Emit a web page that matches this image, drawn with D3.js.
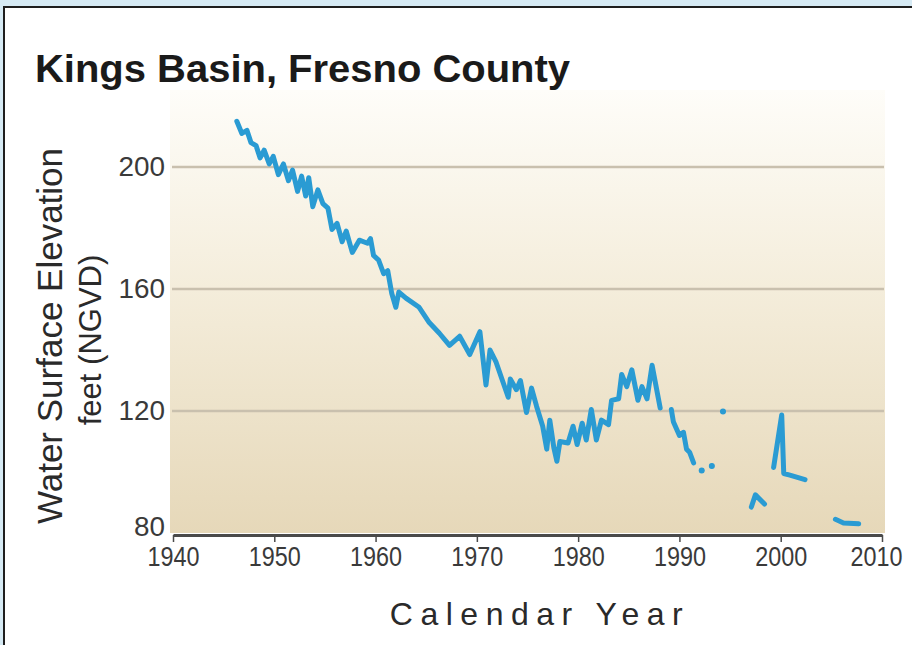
<!DOCTYPE html>
<html>
<head>
<meta charset="utf-8">
<script src="https://cdn.jsdelivr.net/npm/d3@7"></script>
<style>
  html, body { margin: 0; padding: 0; background: #d6eaf4; }
  svg { display: block; }
</style>
</head>
<body>
<div id="chart"></div>
<script>
var svgWidth = 912;
var svgHeight = 645;

// chart values (null = gap in the record)
var years = [
  1946.3, 1946.8, 1947.3, 1947.7, 1948.2, 1948.6, 1949.0, 1949.5, 1949.9, 1950.4,
  1950.9, 1951.4, 1951.8, 1952.3, 1952.7, 1953.1, 1953.4, 1953.8, 1954.3, 1954.8,
  1955.3, 1955.7, 1956.2, 1956.7, 1957.1, 1957.7, 1958.4, 1959.2, 1959.5, 1959.8,
  1960.3, 1960.8, 1961.2, 1961.6, 1962.0, 1962.3, 1963.0, 1964.3, 1965.3, 1966.3,
  1967.3, 1968.3, 1969.3, 1970.3, 1970.9, 1971.3, 1971.9, 1973.1, 1973.3, 1973.9,
  1974.3, 1974.9, 1975.4, 1975.9, 1976.5, 1976.9, 1977.2, 1977.6, 1977.9, 1978.2,
  1979.0, 1979.5, 1979.9, 1980.4, 1980.8, 1981.3, 1981.8, 1982.3, 1983.0, 1983.3,
  1984.0, 1984.3, 1984.8, 1985.3, 1985.9, 1986.3, 1986.8, 1987.3, 1988.1, 1988.6,
  1989.2, 1989.4, 1990.0, 1990.4, 1990.7, 1991.0, 1991.4, 1991.8,
  1992.2, 1992.7, 1993.2, 1993.7, 1994.3, 1995.0,
  1997.1, 1997.5, 1998.4, 1998.9,
  1999.3, 2000.1, 2000.3, 2000.9, 2002.4, 2003.5,
  2005.4, 2006.2, 2007.7
];
var elevation = [
  215, 211, 212, 208, 207, 203, 205.5, 201, 203.5, 197.5,
  201, 195.5, 199, 192, 197, 190.5, 196.5, 187, 192.5, 188,
  186.5, 179.5, 181.5, 175.5, 179, 172, 176, 175, 176.5, 171,
  169.5, 165, 166, 158.5, 154, 159, 157, 154, 149, 145.5,
  141.5, 144.5, 138.5, 146, 128.5, 140, 136, 124.5, 130.5, 127,
  130, 119.5, 127.5, 121.5, 115, 107.5, 117, 108, 103.5, 110,
  109.5, 115, 109, 116, 110.5, 120.5, 110.5, 117, 115.5, 123.5,
  124, 132, 128, 133.5, 123.5, 128, 124, 135, 121, null,
  120.5, 116.5, 112, 113, 107.5, 106.5, 103, null,
  100.5, null, 102, null, 119.8, null,
  88.5, 92.5, 89.5, null,
  101.5, 118.7, 99.5, 99, 97.5, null,
  84.5, 83.3, 83
];
var yTicks = [80, 120, 160, 200];
var xTicks = [1940, 1950, 1960, 1970, 1980, 1990, 2000, 2010];

var svg = d3.select("#chart")
  .append("svg")
  .attr("width", svgWidth)
  .attr("height", svgHeight);

// page frame
svg.append("rect").attr("x", 0).attr("y", 0).attr("width", svgWidth).attr("height", svgHeight).attr("fill", "#d6eaf4");
svg.append("rect").attr("x", 5).attr("y", 8).attr("width", svgWidth - 5).attr("height", svgHeight - 8).attr("fill", "#ffffff");
svg.append("line").attr("x1", 4).attr("x2", svgWidth).attr("y1", 7).attr("y2", 7).attr("stroke", "#1e1e1e").attr("stroke-width", 2);
svg.append("line").attr("x1", 4).attr("x2", 4).attr("y1", 6).attr("y2", svgHeight).attr("stroke", "#1e1e1e").attr("stroke-width", 2);

var xScale = d3.scaleLinear().domain([1940, 2010]).range([173, 882]);
var yScale = d3.scaleLinear().domain([80, 200]).range([533, 167]);

// plot background gradient
var defs = svg.append("defs");
var grad = defs.append("linearGradient").attr("id", "bg").attr("x1", 0).attr("x2", 0).attr("y1", 0).attr("y2", 1);
grad.append("stop").attr("offset", "0%").attr("stop-color", "#fefdf9");
grad.append("stop").attr("offset", "45%").attr("stop-color", "#f4eddb");
grad.append("stop").attr("offset", "100%").attr("stop-color", "#e6d8b9");

svg.append("rect")
  .attr("x", xScale(1940) - 3)
  .attr("y", 90)
  .attr("width", xScale(2010) + 3 - (xScale(1940) - 3))
  .attr("height", yScale(80) - 90)
  .attr("fill", "url(#bg)");

// grid lines
svg.selectAll(".grid")
  .data(yTicks.filter(d => d > 80))
  .enter()
  .append("line")
  .attr("x1", xScale(1940) - 1)
  .attr("x2", xScale(2010) + 2)
  .attr("y1", d => yScale(d))
  .attr("y2", d => yScale(d))
  .attr("stroke", "#c9c0ae")
  .attr("stroke-width", 2.5);

// y tick labels
svg.selectAll(".ylab")
  .data(yTicks)
  .enter()
  .append("text")
  .attr("x", xScale(1940) - 8)
  .attr("y", d => yScale(d) + (d === 80 ? 3 : 9))
  .attr("text-anchor", "end")
  .attr("font-family", "Liberation Sans, Arial, sans-serif")
  .attr("font-size", 27)
  .attr("fill", "#3a3a3a")
  .attr("textLength", d => String(d).length * 15.5)
  .attr("lengthAdjust", "spacingAndGlyphs")
  .text(d => d);

// x axis
var bottomAxis = d3.axisBottom(xScale).tickValues(xTicks).tickSize(7).tickSizeOuter(0).tickFormat(d3.format("d"));
var xAxisG = svg.append("g")
  .attr("transform", `translate(0, ${yScale(80) + 2})`)
  .call(bottomAxis);
xAxisG.select(".domain").attr("stroke", "#4a4a4a").attr("stroke-width", 3);
xAxisG.selectAll(".tick line").attr("stroke", "#4a4a4a").attr("stroke-width", 1.5);
xAxisG.selectAll(".tick text")
  .attr("y", 31)
  .attr("dy", 0)
  .attr("font-family", "Liberation Sans, Arial, sans-serif")
  .attr("font-size", 28)
  .attr("fill", "#3a3a3a")
  .attr("textLength", 52)
  .attr("lengthAdjust", "spacingAndGlyphs");
xAxisG.selectAll(".tick text").filter(d => d === 2010).attr("dx", -6);

// water level line
var line = d3.line()
  .defined(d => d[1] !== null)
  .x(d => xScale(d[0]))
  .y(d => yScale(d[1]));

var pts = years.map((yr, i) => [yr, elevation[i]]);

svg.append("path")
  .datum(pts)
  .attr("d", line)
  .attr("fill", "none")
  .attr("stroke", "#2a9bd3")
  .attr("stroke-width", 5)
  .attr("stroke-linejoin", "round")
  .attr("stroke-linecap", "round");

// isolated readings
var lone = pts.filter((p, i) => p[1] !== null &&
  (i === 0 || pts[i - 1][1] === null) &&
  (i === pts.length - 1 || pts[i + 1][1] === null));
svg.selectAll(".lone")
  .data(lone)
  .enter()
  .append("circle")
  .attr("cx", d => xScale(d[0]))
  .attr("cy", d => yScale(d[1]))
  .attr("r", 3)
  .attr("fill", "#2a9bd3");

// titles
svg.append("text")
  .attr("x", 35)
  .attr("y", 82)
  .attr("font-family", "Liberation Sans, Arial, sans-serif")
  .attr("font-weight", "bold")
  .attr("font-size", 38)
  .attr("fill", "#1a1a1a")
  .attr("textLength", 535)
  .attr("lengthAdjust", "spacingAndGlyphs")
  .text("Kings Basin, Fresno County");

svg.append("text")
  .attr("transform", "translate(62, 336) rotate(-90)")
  .attr("text-anchor", "middle")
  .attr("font-family", "Liberation Sans, Arial, sans-serif")
  .attr("font-size", 35)
  .attr("fill", "#2a2a2a")
  .text("Water Surface Elevation");

svg.append("text")
  .attr("transform", "translate(101, 340) rotate(-90)")
  .attr("text-anchor", "middle")
  .attr("font-family", "Liberation Sans, Arial, sans-serif")
  .attr("font-size", 31)
  .attr("fill", "#2a2a2a")
  .text("feet (NGVD)");

svg.append("text")
  .attr("x", 540)
  .attr("y", 625)
  .attr("text-anchor", "middle")
  .attr("font-family", "Liberation Sans, Arial, sans-serif")
  .attr("font-size", 32)
  .attr("letter-spacing", 7.5)
  .attr("fill", "#2a2a2a")
  .text("Calendar Year");
</script>
</body>
</html>
